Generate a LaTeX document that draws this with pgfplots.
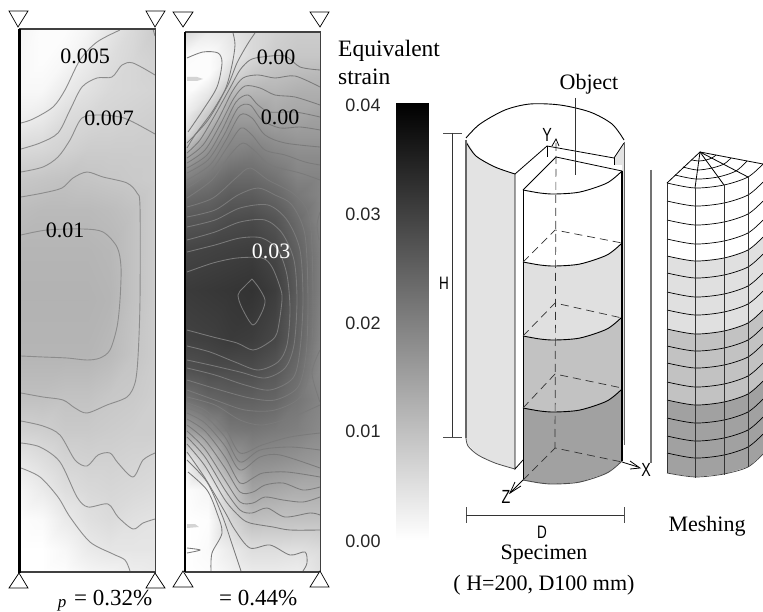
\documentclass[border=0pt]{standalone}
\usepackage{fontspec}
\setmainfont{Liberation Serif}
\newfontfamily\arial{Liberation Sans}
\usepackage{pgfplots}
\pgfplotsset{compat=1.18}
\newcommand{\C}[1]{\addplot[cont,smooth] coordinates {#1};}
\newcommand{\D}[1]{\addplot[contb,smooth] coordinates {#1};}
\newcommand{\LL}[2][black]{\addplot[draw=#1,line width=.8pt] coordinates {#2};}
\newcommand{\SM}[1]{\addplot[draw=black,line width=.9pt,smooth] coordinates {#1};}
\newcommand{\DS}[1]{\addplot[draw=black!80,line width=.7pt,dash pattern=on 8pt off 5pt] coordinates {#1};}
\newcommand{\PF}[2]{\addplot[draw=none,fill=#1] coordinates {#2} --cycle;}
\newcommand{\TR}[1]{\addplot[draw=black,fill=white,line width=.7pt] coordinates {#1} --cycle;}
\newcommand{\TXT}[4][22]{\node[#2,inner sep=0pt] at (axis cs:#3) {\fontsize{#1}{#1}\selectfont #4};}
\begin{document}
\begin{tikzpicture}
\begin{axis}[
  scale only axis, width=763pt, height=612pt,
  xmin=0, xmax=763, ymin=0, ymax=612, y dir=reverse,
  hide axis, clip=true, axis on top=false,
  point meta min=0, point meta max=100,
  colormap={bw}{color(0cm)=(black) color(1cm)=(white)},
  cont/.style={draw=black!45,line width=.9pt},
  contb/.style={draw=black!52,line width=.85pt},
]
\addplot[draw=none,fill=white] coordinates {(0,0) (763,0) (763,612) (0,612)} --cycle;

% left field: x y shade (100 = no strain)
\addplot[surf,shader=interp,mesh/cols=7,point meta=explicit] table[meta=c] {
x y c
20 29 96
42 29 99
65 29 99
88 29 96
110 29 90
133 29 85
155 29 80
20 60 97
42 60 99
65 60 97
88 60 92
110 60 87
133 60 84
155 60 82
20 90 97
42 90 97
65 90 92
88 90 88
110 90 85
133 90 84
155 90 83
20 120 93
42 120 91
65 120 86
88 120 84
110 120 83
133 120 82
155 120 81
20 150 85
42 150 84
65 150 82
88 150 80
110 150 80
133 150 80
155 150 80
20 180 78
42 180 77
65 180 76
88 180 77
110 180 78
133 180 79
155 180 80
20 210 74
42 210 73
65 210 73
88 210 73
110 210 74
133 210 76
155 210 80
20 250 71
42 250 71
65 250 71
88 250 71
110 250 72
133 250 76
155 250 80
20 300 70
42 300 70
65 300 70
88 300 70
110 300 71
133 300 76
155 300 80
20 355 71
42 355 71
65 355 71
88 355 71
110 355 73
133 355 77
155 355 80
20 395 75
42 395 75
65 395 76
88 395 76
110 395 78
133 395 79
155 395 81
20 430 82
42 430 81
65 430 79
88 430 79
110 430 80
133 430 81
155 430 81
20 460 90
42 460 87
65 460 83
88 460 82
110 460 82
133 460 83
155 460 84
20 490 96
42 490 92
65 490 87
88 490 85
110 490 84
133 490 85
155 490 86
20 520 99
42 520 98
65 520 92
88 520 88
110 520 86
133 520 88
155 520 89
20 550 100
42 550 100
65 550 97
88 550 92
110 550 90
133 550 90
155 550 90
20 572 100
42 572 100
65 572 99
88 572 96
110 572 95
133 572 93
155 572 92
};

% right field
\addplot[surf,shader=interp,mesh/cols=7,point meta=explicit] table[meta=c] {
x y c
186 32 85
208 32 92
230 32 90
252 32 85
275 32 82
297 32 80
320 32 80
186 55 98
208 55 99
230 55 92
252 55 85
275 55 80
297 55 78
320 55 78
186 75 99
208 75 99
230 75 85
252 75 78
275 75 75
297 75 73
320 75 72
186 95 98
208 95 90
230 95 72
252 95 70
275 95 70
297 95 68
320 95 68
186 115 92
208 115 78
230 115 62
252 115 62
275 115 66
297 115 65
320 115 63
186 135 85
208 135 65
230 135 55
252 135 55
275 135 58
297 135 60
320 135 60
186 155 65
208 155 55
230 155 50
252 155 48
275 155 52
297 155 55
320 155 55
186 175 52
208 175 47
230 175 42
252 175 42
275 175 46
297 175 52
320 175 52
186 195 42
208 195 40
230 195 36
252 195 36
275 195 40
297 195 47
320 195 52
186 220 34
208 220 33
230 220 30
252 220 29
275 220 33
297 220 42
320 220 52
186 250 27
208 250 26
230 250 25
252 250 24
275 250 28
297 250 38
320 250 50
186 290 23
208 290 22
230 290 21
252 290 20
275 290 24
297 290 36
320 290 50
186 340 26
208 340 25
230 340 23
252 340 24
275 340 28
297 340 38
320 340 52
186 370 32
208 370 30
230 370 30
252 370 30
275 370 34
297 370 42
320 370 54
186 400 45
208 400 40
230 400 38
252 400 38
275 400 40
297 400 46
320 400 52
186 430 62
208 430 55
230 430 47
252 430 46
275 430 48
297 430 50
320 430 54
186 460 92
208 460 78
230 460 60
252 460 55
275 460 56
297 460 58
320 460 60
186 490 99
208 490 96
230 490 78
252 490 64
275 490 66
297 490 68
320 490 68
186 520 100
208 520 99
230 520 84
252 520 75
275 520 76
297 520 76
320 520 76
186 550 100
208 550 98
230 550 92
252 550 87
275 550 87
297 550 88
320 550 86
186 572 100
208 572 99
230 572 95
252 572 92
275 572 92
297 572 93
320 572 88
};
\PF{black!17}{(187,77) (197,77) (203,79) (197,81) (187,81)}
\PF{black!17}{(187,524) (195,524) (199,527) (187,528)}

% colour bar
\addplot[surf,shader=interp,mesh/cols=2,point meta=explicit] table[meta=c] {
x y c
396 103 0
428 103 0
396 212 25
428 212 25
396 321 50
428 321 50
396 430 75
428 430 75
396 540 100
428 540 100
};

% left contours
\C{(21,123) (33,119) (53,107) (65,90) (80,60) (97,42) (120,30)}
\C{(21,149) (40,143) (58,133) (70,110) (82,87) (97,78) (112,77) (122,65) (133,63) (155,75)}
\C{(21,172) (43,167) (58,157) (70,140) (82,118) (100,115) (120,117) (133,122) (155,134)}
\C{(21,197) (43,193) (62,188) (73,178) (87,172) (103,177) (127,183) (137,193) (140,207) (140,300) (138,357) (135,383) (127,397) (107,405) (87,413) (75,408) (63,400) (43,397) (21,393)}
\C{(21,235) (47,230) (83,229) (103,232) (117,247) (121,267) (120,300) (117,327) (110,350) (100,358) (87,360) (67,358) (43,357) (21,356)}
\C{(21,421) (43,426) (60,435) (75,460) (87,466) (98,455) (110,453) (118,463) (133,477) (143,460) (155,453)}
\C{(21,443) (40,447) (60,462) (77,497) (88,507) (108,504) (118,517) (133,529) (143,523) (155,519)}
\C{(21,468) (40,477) (58,497) (70,517) (90,542) (113,554) (125,560) (130,571)}
\C{(153,29) (155,36)}

% right contours, upper part
\D{(187,58) (203,52) (218,53) (222,63) (217,87) (203,110) (188,132)}
\D{(233,33) (235,45) (232,65) (225,90) (208,120) (187,143)}
\D{(255,33) (247,45) (237,63) (228,85) (212,112) (195,135) (187,148)}
\D{(187,153) (200,140) (215,115) (230,88) (240,70) (250,60) (262,57) (285,56) (300,67) (320,70)}
\D{(187,158) (203,145) (218,120) (232,92) (243,78) (258,75) (275,78) (295,76) (320,87)}
\D{(187,163) (205,150) (220,125) (234,98) (245,86) (260,88) (275,95) (295,97) (320,105)}
\D{(187,168) (207,155) (222,130) (236,102) (248,95) (258,105) (270,112) (295,112) (320,117)}
\D{(187,173) (208,160) (224,135) (238,108) (250,105) (262,120) (280,128) (300,127) (320,130)}
\D{(187,180) (210,165) (226,140) (240,115) (252,118) (265,135) (285,143) (320,147)}
\D{(187,188) (210,172) (228,146) (241,128) (252,135) (265,150) (285,155) (305,162) (320,165)}
\D{(187,198) (212,180) (230,155) (243,143) (256,152) (270,165) (300,173) (320,180)}
% rings round the maximum
\D{(187,207) (213,198) (236,178) (250,168) (268,180) (295,195) (310,220) (313,300) (311,355) (302,395) (275,410) (245,410) (215,400) (187,390)}
\D{(187,217) (215,210) (238,195) (258,188) (275,195) (292,205) (305,235) (308,300) (306,355) (298,387) (275,400) (250,398) (220,390) (187,380)}
\D{(187,227) (215,220) (240,208) (268,205) (287,220) (300,250) (303,300) (300,350) (293,378) (270,390) (245,385) (215,375) (187,368)}
\D{(187,240) (215,232) (240,222) (265,220) (282,233) (294,260) (297,300) (294,345) (285,368) (265,378) (240,372) (210,365) (187,360)}
\D{(187,252) (215,245) (240,238) (262,238) (278,250) (287,275) (290,310) (287,345) (278,362) (258,370) (235,362) (210,352) (187,346)}
\D{(187,272) (213,263) (237,258) (262,258) (272,267) (280,287) (282,300) (277,333) (268,343) (253,350) (237,343) (213,337) (187,330)}
\D{(252,279) (243,288) (238,295) (242,308) (253,325) (262,312) (265,300) (259,288) (252,279)}
\D{(187,397) (215,405) (240,420) (262,425) (290,418) (320,405)}
\D{(320,350) (312,373) (320,402)}
\D{(320,212) (317,225) (319,240)}
% right contours, lower part
\D{(187,403) (205,410) (225,428) (240,453) (262,445) (290,437) (320,433)}
\D{(187,408) (205,416) (225,437) (240,462) (260,450) (290,447) (320,450)}
\D{(187,413) (205,423) (225,446) (240,470) (260,457) (280,455) (320,468)}
\D{(187,419) (205,431) (225,457) (240,483) (253,478) (263,473) (287,472) (320,477)}
\D{(187,425) (205,440) (225,468) (240,492) (253,492) (265,485) (283,483) (303,490) (320,487)}
\D{(187,431) (205,449) (225,480) (240,502) (253,503) (265,497) (283,500) (303,502) (320,497)}
\D{(187,437) (205,457) (225,490) (240,510) (252,513) (267,508) (285,517) (310,513) (320,515)}
\D{(187,444) (205,466) (225,500) (240,517) (250,523) (273,527) (290,530) (320,530)}
\D{(187,452) (205,478) (225,512) (235,530) (250,548) (270,545) (290,555) (305,552) (307,563) (303,571)}
\D{(187,460) (207,482) (222,515) (233,547) (241,571)}
\D{(188,472) (207,490) (217,513) (222,533) (212,553) (211,571)}
\D{(187,548) (200,550) (187,553)}

% frames
\addplot[draw=black!75,line width=1.2pt] coordinates {(19,29) (155.5,29) (155.5,572) (19,572)};
\addplot[draw=black,line width=2.4pt] coordinates {(19.5,29) (19.5,573)};
\addplot[draw=black!75,line width=1.2pt] coordinates {(185,32) (320.5,32) (320.5,572) (185,572)};
\addplot[draw=black,line width=2.2pt] coordinates {(185,32) (185,572)};

% supports
\TR{(9,11) (28,11) (18,27)}
\TR{(146,11) (165,11) (155,27)}
\TR{(19,573) (9,588) (28,588)}
\TR{(155,573) (146,588) (165,588)}
\TR{(173,12) (193,12) (183,27)}
\TR{(310,12) (329,12) (320,27)}
\TR{(183,571) (173,587) (193,587)}
\TR{(320,571) (310,587) (329,587)}

% specimen: outer walls
\PF{black!11}{(466,140) (476,156) (495,167) (515,174) (515,469) (495,463) (478,455) (468,445) (466,438)}
\PF{black!11}{(614,158) (624,143) (624,440) (622,440) (622,165) (614,165)}
\SM{(466,138) (480,124) (505,110) (530,104) (560,105) (590,112) (612,124) (624,140)}
\SM{(466,142) (476,156) (495,167) (515,174)}
\LL[black]{(515,174) (547,146) (614,158) (624,143)}
\LL[black]{(547,146) (547,157)}
\addplot[draw=black!60,line width=1.1pt] coordinates {(466,140) (466,438)};
\addplot[draw=black!60,line width=.9pt] coordinates {(624,142) (624,445)};
\addplot[draw=black!70,line width=.8pt,smooth] coordinates {(466,438) (468,446) (478,455) (495,463) (515,469)};
\LL{(515,174) (515,469) (523,460)}
\LL{(614,158) (614,165)}
% specimen: bands
\PF{white}{(523,190) (540,193) (555,194) (580,192) (607,183) (622,171) (622,243) (607,255) (580,264) (555,266) (540,265) (523,262)}
\PF{white}{(523,190) (556,157) (622,171)}
\PF{black!12}{(523,262) (540,265) (555,266) (580,264) (607,255) (622,243) (622,317) (607,329) (580,338) (555,340) (540,339) (523,336)}
\PF{black!24}{(523,336) (540,339) (555,340) (580,338) (607,329) (622,317) (622,389) (607,401) (580,410) (555,412) (540,411) (523,408)}
\PF{black!37}{(523,408) (540,411) (555,412) (580,410) (607,401) (622,389) (622,461) (607,473) (580,482) (555,484) (540,483) (523,480)}
\SM{(523,190) (540,193) (555,194) (580,192) (607,183) (622,171)}
\SM{(523,262) (540,265) (555,266) (580,264) (607,255) (622,243)}
\SM{(523,336) (540,339) (555,340) (580,338) (607,329) (622,317)}
\SM{(523,408) (540,411) (555,412) (580,410) (607,401) (622,389)}
\addplot[draw=black!70,line width=.9pt,smooth] coordinates {(523,480) (540,483) (555,484) (580,482) (607,473) (622,461)};
\LL{(523,190) (556,157) (622,171)}
\LL{(523,190) (523,480)}
\addplot[draw=black,line width=1.1pt] coordinates {(622,171) (622,461)};
% specimen: hidden edges and axes
\DS{(523,262) (555,230) (622,243)}
\DS{(523,336) (555,303) (622,318)}
\DS{(523,408) (555,374) (622,388)}
\DS{(523,480) (555,448) (622,462)}
\DS{(556,143) (555,448)}
\LL{(622,462) (638,467)}
\LL{(630,461) (640,468) (630,469)}
\LL{(523,480) (510,493)}
\LL{(521,486) (510,493) (515,482)}
\LL{(552,146) (556,139) (559,146)}
\LL[black!80]{(575,98) (575,175)}
% dimension lines
\LL[black!70]{(443,133) (462,133)}
\LL[black!70]{(443,437) (462,437)}
\LL[black!80]{(452.5,133) (452.5,437)}
\LL[black!70]{(466,507) (466,523)}
\LL[black!70]{(624,507) (624,523)}
\LL[black!80]{(466,515) (624,515)}

% meshing drawing
\PF{black!12}{(667,256) (695,261) (724,258) (748,250) (763,237) (763,310) (748,323) (724,331) (695,334) (667,329)}
\PF{black!24}{(667,329) (695,334) (724,331) (748,323) (763,310) (763,381) (748,394) (724,402) (695,405) (667,400)}
\PF{black!37}{(667,400) (695,405) (724,402) (748,394) (763,381) (763,454) (748,467) (724,474) (695,477) (667,473)}
\newcommand{\MA}[5]{\addplot[draw=black,line width=.7pt,smooth] coordinates {(667,#1) (695,#2) (724,#3) (748,#4) (763,#5)};}
\MA{183}{188}{185}{177}{164}
\MA{201}{206}{203}{195}{182}
\MA{220}{225}{222}{214}{201}
\MA{239}{244}{241}{233}{220}
\MA{256}{261}{258}{250}{237}
\MA{273}{278}{275}{267}{254}
\MA{292}{297}{294}{286}{273}
\MA{310}{315}{312}{304}{291}
\MA{329}{334}{331}{323}{310}
\MA{346}{351}{348}{340}{327}
\MA{363}{368}{365}{357}{344}
\MA{382}{387}{384}{376}{363}
\MA{400}{405}{402}{394}{381}
\MA{418}{423}{420}{412}{399}
\MA{436}{441}{438}{430}{417}
\MA{453}{458}{455}{447}{434}
\addplot[draw=black!75,line width=.7pt,smooth] coordinates {(667,473) (695,477) (724,474) (748,467) (763,454)};
\addplot[draw=black,line width=.7pt,smooth] coordinates {(675,175) (696,179) (718,177) (736,171) (747,161)};
\addplot[draw=black,line width=.7pt,smooth] coordinates {(683,167) (697,170) (712,168) (724,164) (731,158)};
\addplot[draw=black,line width=.7pt,smooth] coordinates {(692,160) (699,161) (706,160) (712,158) (716,155)};
\LL{(700,152) (667,183)}
\LL{(700,152) (695,188)}
\LL{(700,152) (724,185)}
\LL{(700,152) (748,177)}
\LL{(700,152) (763,164)}
\addplot[draw=black!80,line width=.8pt] coordinates {(667,183) (667,473)};
\addplot[draw=black!80,line width=.8pt] coordinates {(695,188) (695,478)};
\addplot[draw=black!80,line width=.8pt] coordinates {(724,185) (724,475)};
\addplot[draw=black!80,line width=.8pt] coordinates {(748,177) (748,467)};
\addplot[draw=black!55,line width=1.2pt] coordinates {(651,170) (651,463)};

% texts
\TXT{}{85,56}{0.005}
\TXT{}{109,118}{0.007}
\TXT{}{65,230}{0.01}
\TXT{}{276,57}{0.00}
\TXT{}{280,117}{0.00}
\node[inner sep=0pt,text=white] at (axis cs:271,251) {\fontsize{22}{22}\selectfont 0.03};
\TXT[23]{anchor=west}{74,598}{= 0.32\%}
\TXT[23]{anchor=west}{219,598}{= 0.44\%}
\TXT[17]{}{62,605}{\itshape p}
\TXT[23.5]{anchor=west}{338,51}{Equivalent}
\TXT[23.5]{anchor=west}{338,77}{strain}
\TXT{}{589,84}{Object}
\TXT{}{544,555}{Specimen}
\TXT{}{544,585}{( H=200, D100 mm)}
\TXT{}{707,526}{Meshing}
\node[inner sep=0pt,text=black!85] at (axis cs:363,105) {\arial\fontsize{18}{18}\selectfont 0.04};
\node[inner sep=0pt,text=black!85] at (axis cs:363,214) {\arial\fontsize{18}{18}\selectfont 0.03};
\node[inner sep=0pt,text=black!85] at (axis cs:363,323) {\arial\fontsize{18}{18}\selectfont 0.02};
\node[inner sep=0pt,text=black!85] at (axis cs:363,431) {\arial\fontsize{18}{18}\selectfont 0.01};
\node[inner sep=0pt,text=black!85] at (axis cs:363,541) {\arial\fontsize{18}{18}\selectfont 0.00};
\node[inner sep=0pt,xscale=.75] at (axis cs:547,135) {\arial\fontsize{19}{19}\selectfont Y};
\node[inner sep=0pt,xscale=.75] at (axis cs:506,497) {\arial\fontsize{19}{19}\selectfont Z};
\node[inner sep=0pt,xscale=.75] at (axis cs:646,470) {\arial\fontsize{19}{19}\selectfont X};
\node[inner sep=0pt,xscale=.75] at (axis cs:444,283) {\arial\fontsize{18}{18}\selectfont H};
\node[inner sep=0pt,xscale=.75] at (axis cs:542,532) {\arial\fontsize{18}{18}\selectfont D};
\end{axis}
\end{tikzpicture}
\end{document}
